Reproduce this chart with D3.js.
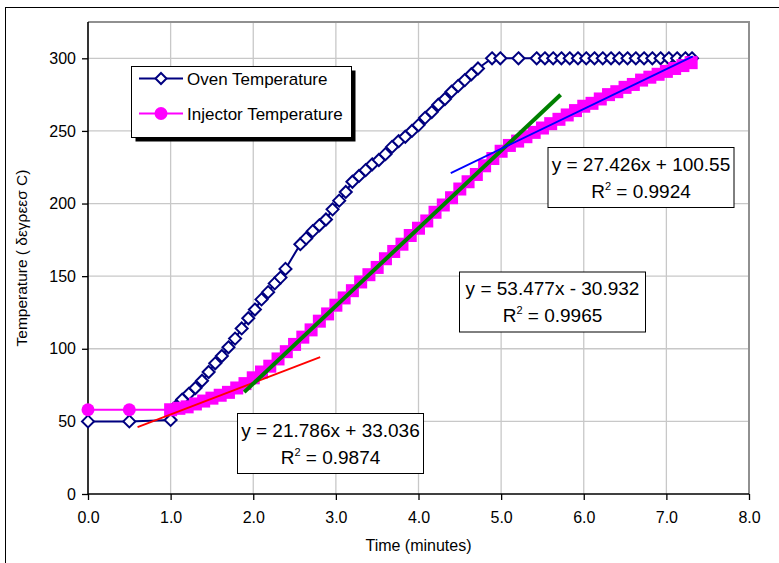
<!DOCTYPE html>
<html>
<head>
<meta charset="utf-8">
<script src="https://cdn.jsdelivr.net/npm/d3@7"></script>
<style>
  html, body { margin: 0; padding: 0; background: #fff; }
  svg { display: block; }
  text { font-family: "Liberation Sans", Arial, sans-serif; fill: #000; }
</style>
</head>
<body>
<svg id="chart" width="779" height="563"></svg>
<script>
// ---------------- data ----------------
const ovenTime = [0, 0.5, 1.0, 1.06, 1.14, 1.22, 1.30, 1.38, 1.46, 1.54, 1.62, 1.70, 1.78, 1.86, 1.94,
  2.02, 2.10, 2.18, 2.26, 2.33, 2.39, 2.57, 2.64, 2.72, 2.80, 2.88, 2.96, 3.04, 3.12, 3.20, 3.28,
  3.36, 3.44, 3.52, 3.60, 3.68, 3.76, 3.84, 3.92, 4.00, 4.08, 4.16, 4.24, 4.32, 4.40, 4.48, 4.56,
  4.64, 4.72, 4.89, 4.99, 5.21, 5.43, 5.53, 5.63, 5.73, 5.83, 5.93, 6.03, 6.13, 6.23, 6.33, 6.43,
  6.53, 6.63, 6.73, 6.83, 6.93, 7.03, 7.13, 7.23, 7.31];
const ovenTemp = [50, 50, 51, 60, 65, 69, 73, 78, 84, 90, 95, 101, 107, 114, 121,
  127, 134, 139, 145, 149, 155, 172, 176, 181, 185, 189, 196, 202, 208, 215, 219,
  223, 227, 230, 234, 239, 243, 246, 250, 254, 259, 263, 268, 272, 277, 281, 285,
  289, 293, 300, 300, 300, 300, 300, 300, 300, 300, 300, 300, 300, 300, 300, 300,
  300, 300, 300, 300, 300, 300, 300, 300, 300];

const injTime = [0, 0.5, 1.0, 1.1, 1.2, 1.3, 1.4, 1.5, 1.6, 1.7, 1.8, 1.9, 2.0, 2.1, 2.2, 2.3, 2.4,
  2.5, 2.6, 2.7, 2.8, 2.9, 3.0, 3.1, 3.2, 3.3, 3.4, 3.5, 3.6, 3.7, 3.8, 3.9, 4.0, 4.1, 4.2, 4.3,
  4.4, 4.5, 4.6, 4.7, 4.8, 4.9, 5.0, 5.1, 5.2, 5.3, 5.4, 5.5, 5.6, 5.7, 5.8, 5.9, 6.0, 6.1, 6.2,
  6.3, 6.4, 6.5, 6.6, 6.7, 6.8, 6.9, 7.0, 7.1, 7.2, 7.3];
const injTemp = [58, 58, 58, 59, 60, 62, 64, 66, 68, 70, 73, 76, 80, 84, 88, 93, 98,
  103, 108, 113, 119, 124, 130, 135, 140, 146, 151, 156, 162, 167, 172, 178, 183, 188, 194, 199,
  204, 210, 215, 220, 226, 231, 236, 240, 243, 246, 249, 252, 255, 258, 261, 264, 267, 269, 272,
  275, 277, 280, 282, 285, 287, 289, 291, 293, 295, 297];

const trendSlope = [21.786, 53.477, 27.426];
const trendIntercept = [33.036, -30.932, 100.55];
const trendFrom = [0.6, 1.89, 4.39];
const trendTo = [2.81, 5.72, 7.32];
const trendColor = ["#ff0000", "#008000", "#0000ff"];
const trendWidth = [1.8, 4, 1.8];
const trendEquation = ["y = 21.786x + 33.036", "y = 53.477x - 30.932", "y = 27.426x + 100.55"];
const trendR2 = ["0.9874", "0.9965", "0.9924"];

const seriesNames = ["Oven Temperature", "Injector Temperature"];
const xTicks = [0, 1, 2, 3, 4, 5, 6, 7, 8];
const yTicks = [0, 50, 100, 150, 200, 250, 300];
const xTitle = "Time (minutes)";
const yTitle = "Temperature ( δεγρεεσ C)";

// ---------------- layout ----------------
const svg = d3.select("#chart");
const L = 88, R = 749, T = 22, B = 494;
const x = d3.scaleLinear().domain([0, 8]).range([L, R]);
const y = d3.scaleLinear().domain([0, 325]).range([B, T]);

// outer chart border
svg.append("rect").attr("x", 5.5).attr("y", 7.5).attr("width", 900).attr("height", 700)
  .attr("fill", "#fff").attr("stroke", "#000").attr("stroke-width", 1);

// gridlines
const grid = svg.append("g");
grid.selectAll("line.gx").data(xTicks.filter(d => d > 0 && d < 8)).join("line")
  .attr("x1", d => x(d)).attr("x2", d => x(d)).attr("y1", T).attr("y2", B)
  .attr("stroke", "#c8c8c8").attr("stroke-width", 1.3);
grid.selectAll("line.gy").data(yTicks.filter(d => d > 0)).join("line")
  .attr("x1", L).attr("x2", R).attr("y1", d => y(d)).attr("y2", d => y(d))
  .attr("stroke", "#c8c8c8").attr("stroke-width", 1.3);

// plot border (top / right)
svg.append("path").attr("d", `M${L},${T}H${R}V${B}`).attr("fill", "none")
  .attr("stroke", "#909090").attr("stroke-width", 2);

// axes
const xAxis = svg.append("g").attr("transform", `translate(0,${B})`)
  .call(d3.axisBottom(x).tickValues(xTicks).tickFormat(d3.format(".1f")).tickSizeOuter(0).tickSize(6).tickPadding(12));
const yAxis = svg.append("g").attr("transform", `translate(${L},0)`)
  .call(d3.axisLeft(y).tickValues(yTicks).tickFormat(d3.format("d")).tickSizeOuter(0).tickSize(6).tickPadding(6));
[xAxis, yAxis].forEach(g => {
  g.select(".domain").attr("stroke", "#000").attr("stroke-width", 1.6);
  g.selectAll(".tick line").attr("stroke", "#000").attr("stroke-width", 1.3);
  g.selectAll(".tick text").attr("font-size", 16).attr("font-family", "Liberation Sans, Arial, sans-serif").attr("fill", "#000");
});
yAxis.select(".domain").attr("d", `M0,${T}V${B}`);
xAxis.select(".domain").attr("d", `M${L},0H${R}`);

// axis titles
svg.append("text").attr("x", (L + R) / 2).attr("y", 551).attr("text-anchor", "middle")
  .attr("font-size", 16).text(xTitle);
svg.append("text").attr("transform", `translate(27,${(T + B) / 2}) rotate(-90)`)
  .attr("text-anchor", "middle").attr("font-size", 15.5).text(yTitle);

// ---------------- series ----------------
const oven = ovenTime.map((t, i) => ({ t, v: ovenTemp[i] }));
const inj = injTime.map((t, i) => ({ t, v: injTemp[i] }));
const line = d3.line().x(d => x(d.t)).y(d => y(d.v));
const diamond = "M0,-6L6,0L0,6L-6,0Z";

svg.append("path").datum(oven).attr("d", line).attr("fill", "none")
  .attr("stroke", "#000080").attr("stroke-width", 2);
svg.append("g").selectAll("path").data(oven).join("path")
  .attr("transform", d => `translate(${x(d.t)},${y(d.v)})`).attr("d", diamond)
  .attr("fill", "#fff").attr("stroke", "#000080").attr("stroke-width", 2);

svg.append("path").datum(inj).attr("d", line).attr("fill", "none")
  .attr("stroke", "#ff00ff").attr("stroke-width", 2);
const injMarks = svg.append("g");
const sq = 13;
injMarks.selectAll("circle").data(inj.filter(d => d.t < 0.9)).join("circle")
  .attr("cx", d => x(d.t)).attr("cy", d => y(d.v)).attr("r", 6.5).attr("fill", "#ff00ff");
injMarks.selectAll("rect").data(inj.filter(d => d.t >= 0.9)).join("rect")
  .attr("x", d => x(d.t) - sq / 2).attr("y", d => y(d.v) - sq / 2).attr("width", sq).attr("height", sq)
  .attr("fill", "#ff00ff");

// ---------------- trendlines ----------------
trendSlope.forEach((m, i) => {
  const b = trendIntercept[i];
  svg.append("line")
    .attr("x1", x(trendFrom[i])).attr("y1", y(m * trendFrom[i] + b))
    .attr("x2", x(trendTo[i])).attr("y2", y(m * trendTo[i] + b))
    .attr("stroke", trendColor[i]).attr("stroke-width", trendWidth[i]);
});

// ---------------- equation boxes ----------------
const boxPos = [[237.5, 413.5], [459.5, 272], [548, 147.5]];
trendEquation.forEach((eq, i) => {
  const [bx, by] = boxPos[i];
  const g = svg.append("g").attr("transform", `translate(${bx},${by})`);
  g.append("rect").attr("x", 0).attr("y", 0).attr("width", 186).attr("height", 60)
    .attr("fill", "#fff").attr("stroke", "#000").attr("stroke-width", 1);
  g.append("text").attr("x", 93).attr("y", 23).attr("text-anchor", "middle")
    .attr("font-size", 19).text(eq);
  const t2 = g.append("text").attr("x", 93).attr("y", 50).attr("text-anchor", "middle").attr("font-size", 19);
  t2.append("tspan").text("R");
  t2.append("tspan").attr("font-size", 11).attr("dy", -8).text("2");
  t2.append("tspan").attr("dy", 8).text(" = " + trendR2[i]);
});

// ---------------- legend ----------------
const lg = svg.append("g");
lg.append("rect").attr("x", 135.5).attr("y", 70.5).attr("width", 220).attr("height", 71).attr("fill", "#000");
lg.append("rect").attr("x", 131.5).attr("y", 66.5).attr("width", 220).attr("height", 71)
  .attr("fill", "#fff").attr("stroke", "#000").attr("stroke-width", 1);
const rowY = [78.5, 113.5];
const legColor = ["#000080", "#ff00ff"];
seriesNames.forEach((name, i) => {
  lg.append("line").attr("x1", 139).attr("x2", 183).attr("y1", rowY[i]).attr("y2", rowY[i])
    .attr("stroke", legColor[i]).attr("stroke-width", 2);
  if (i === 0) {
    lg.append("path").attr("transform", `translate(161,${rowY[i]})`).attr("d", "M0,-5.5L5.5,0L0,5.5L-5.5,0Z")
      .attr("fill", "#fff").attr("stroke", legColor[i]).attr("stroke-width", 2);
  } else {
    lg.append("circle").attr("cx", 161).attr("cy", rowY[i]).attr("r", 6.5).attr("fill", legColor[i]);
  }
  lg.append("text").attr("x", 187).attr("y", rowY[i] + 6).attr("font-size", 17).text(name);
});
</script>
</body>
</html>
